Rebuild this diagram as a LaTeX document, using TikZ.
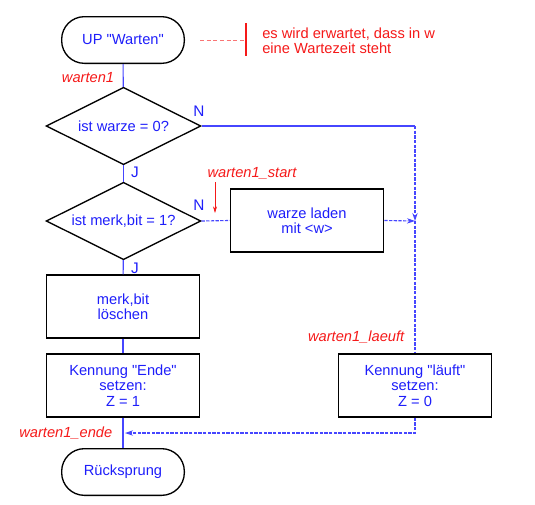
\documentclass[tikz,border=0pt]{standalone}
\usepackage{fontspec}
\setmainfont{Liberation Sans}[Ligatures=TeXOff]
\usetikzlibrary{shapes.geometric,arrows.meta}
\definecolor{txtblue}{RGB}{30,30,250}
\definecolor{lineblue}{RGB}{70,70,255}
\definecolor{lblred}{RGB}{245,25,25}
\def\lbl#1{\textit{#1}}

\begin{document}
\begin{tikzpicture}[x=0.75pt,y=0.75pt,yscale=-1,xscale=1,
		font=\fontsize{11}{11.5}\selectfont,
		term/.style={draw=black,line width=1pt,rounded corners=17pt,minimum width=92pt,minimum height=35pt,text=txtblue,inner sep=1pt},
		proc/.style={draw=black,line width=1.1pt,minimum width=115pt,minimum height=47pt,text=txtblue,align=center,inner sep=1pt},
		decide/.style={diamond,draw=black,line width=1pt,aspect=2,minimum width=116pt,minimum height=58pt,text=txtblue,inner sep=0pt},
		flow/.style={draw=lineblue,line width=0.8pt},
		jump/.style={draw=lineblue,line width=0.85pt,dash pattern=on 2.5pt off 1pt},
		tip/.style={-{Stealth[length=6pt,width=4pt]}},
		tag/.style={text=lblred,font=\fontsize{11}{11.5}\selectfont\itshape},
		yn/.style={text=txtblue,font=\fontsize{11.5}{12}\selectfont}]
	\useasboundingbox (0,0) rectangle (535,504);
	% shapes
	\node [term] (up) at (123,40) {UP "Warten"};
	\node [decide] (d1) at (123.5,126) {ist warze = 0?};
	\node [decide] (d2) at (123.5,221) {ist merk,bit = 1?};
	\node [proc] (lad) at (307,220.5) {warze laden\\mit <w>};
	\node [proc] (merk) at (123,306.5) {merk,bit\\löschen};
	\node [proc] (ende) at (123,385.5) {Kennung "Ende"\\setzen:\\Z = 1};
	\node [proc] (lauft) at (415,385.5) {Kennung "läuft"\\setzen:\\Z = 0};
	\node [term] (ret) at (123,472) {Rücksprung};
	\coordinate (c1) at (415,126);
	\coordinate (c2) at (415,221);
	\coordinate (c3) at (125,433);
	% connectors
	\draw [flow] (up) -- (d1);
	\draw [flow] (d1) -- (d2);
	\draw [flow] (d2) -- (merk);
	\draw [flow] (merk) -- (ende);
	\draw [flow] (ende) -- (ret);
	\draw [flow] (d1.east) -- (c1);
	\draw [jump,tip] (c1) -- (c2);
	\draw [jump] (c2) -- (lauft);
	\draw [jump] (d2.east) -- (lad.west);
	\draw [jump,tip] (lad.east) -- (c2);
	\draw [jump,tip] (lauft.south) |- (c3);
	% labels
	\node [yn] (n1) at (199,111) {N};
	\node [yn] (n2) at (199,205) {N};
	\node [yn] (j1) at (135,172) {J};
	\node [yn] (j2) at (135,268) {J};
	\node [tag] (m0) at (88,78) {\lbl{warten1}};
	\node [tag] (m1) at (252,173) {\lbl{warten1\_start}};
	\node [tag,anchor=east] (m2) at (409,337) {\lbl{warten1\_laeuft}};
	\node [tag,anchor=east] (m3) at (117,433) {\lbl{warten1\_ende}};
	\coordinate (s1) at (215,182);
	\coordinate (s2) at (215,213);
	\draw [lblred,line width=0.5pt,-{Stealth[length=5pt,width=3pt]}] (s1) -- (s2);
	% comment
	\coordinate (k0) at (200,40);
	\coordinate (k1) at (246,40);
	\coordinate (k2) at (246,23);
	\coordinate (k3) at (246,56);
	\draw [lblred!60,line width=0.6pt,densely dashed] (k0) -- (k1);
	\draw [lblred,line width=1pt] (k2) -- (k3);
	\node [anchor=west,align=left,text=lblred,inner sep=0pt] (kt) at (262,40.5) {es wird erwartet, dass in w\\eine Wartezeit steht};
\end{tikzpicture}
\end{document}
